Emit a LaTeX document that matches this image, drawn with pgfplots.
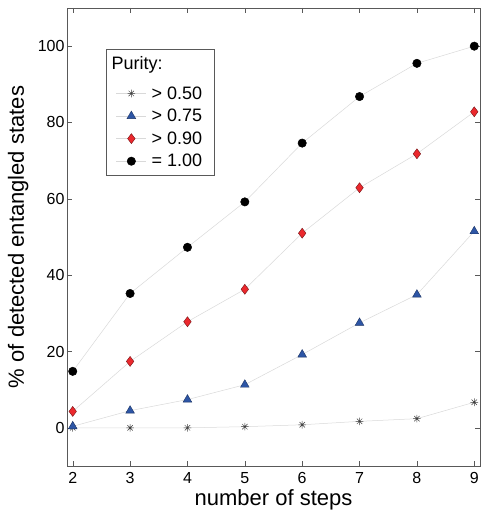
\documentclass[border=0pt]{standalone}
\usepackage{fontspec}
\setmainfont{Liberation Sans}
\usepackage{pgfplots}
\pgfplotsset{compat=1.18}
\definecolor{triblue}{RGB}{45,85,165}
\definecolor{dired}{RGB}{235,40,45}
% MATLAB-like '*' marker: a plus and a cross on top of each other
\pgfdeclareplotmark{matstar}{%
  \pgfpathmoveto{\pgfqpoint{0pt}{\pgfplotmarksize}}%
  \pgfpathlineto{\pgfqpoint{0pt}{-\pgfplotmarksize}}%
  \pgfpathmoveto{\pgfqpoint{\pgfplotmarksize}{0pt}}%
  \pgfpathlineto{\pgfqpoint{-\pgfplotmarksize}{0pt}}%
  \pgfpathmoveto{\pgfqpoint{0.707\pgfplotmarksize}{0.707\pgfplotmarksize}}%
  \pgfpathlineto{\pgfqpoint{-0.707\pgfplotmarksize}{-0.707\pgfplotmarksize}}%
  \pgfpathmoveto{\pgfqpoint{-0.707\pgfplotmarksize}{0.707\pgfplotmarksize}}%
  \pgfpathlineto{\pgfqpoint{0.707\pgfplotmarksize}{-0.707\pgfplotmarksize}}%
  \pgfusepathqstroke}
\begin{document}
\begin{tikzpicture}
\begin{axis}[
    scale only axis,
    width=413pt, height=458pt,
    xmin=1.9, xmax=9.1,
    ymin=-10, ymax=110,
    xtick={2,...,9}, ytick={0,20,...,100},
    tick align=inside,
    major tick length=5pt,
    axis line style={gray!70!black},
    tick style={gray!70!black},
    ticklabel style={font=\fontsize{16}{18}\selectfont},
    xticklabel style={yshift=-3pt},
    yticklabel style={xshift=1pt},
    /pgf/number format/assume math mode=true,
    xlabel={number of steps},
    ylabel={\% of detected entangled states},
    label style={font=\fontsize{22}{24}\selectfont, inner sep=0pt},
    xlabel style={at={([yshift=-39pt]axis description cs:0.5,0)}, anchor=base},
    ylabel style={at={([xshift=-43pt]axis description cs:0,0.5)}, anchor=base},
    legend style={at={(0.094,0.91)}, anchor=north west,
        font=\fontsize{18}{20}\selectfont, draw=gray!70!black,
        inner xsep=10pt, inner ysep=5pt, row sep=4.5pt, column sep=3pt},
    legend cell align=left,
    legend image code/.code={\draw[mark repeat=2,mark phase=2,#1]
        plot coordinates {(0cm,0cm)(0.53cm,0cm)(1.06cm,0cm)};},
    every axis plot/.append style={draw=gray!30, line width=0.5pt},
]
\addlegendimage{empty legend}
\addlegendentry[text depth=8.5pt]{\hspace*{-40pt}Purity:}

\addplot[mark=matstar, mark size=3.8pt, mark options={draw=gray!50!black, line width=0.5pt}]
coordinates {(2,0) (3,0) (4,0) (5,0.3) (6,0.8) (7,1.7) (8,2.4) (9,6.7)};
\addlegendentry{> 0.50}

\addplot[mark=triangle*, mark size=5pt, mark options={fill=triblue, draw=triblue!60!black, line width=0.4pt}]
coordinates {(2,0.4) (3,4.5) (4,7.4) (5,11.3) (6,19.2) (7,27.5) (8,34.9) (9,51.5)};
\addlegendentry{> 0.75}

\addplot[mark=diamond*, mark size=5pt, mark options={fill=dired, draw=dired!50!black, line width=0.4pt}]
coordinates {(2,4.3) (3,17.4) (4,27.8) (5,36.3) (6,51.0) (7,62.9) (8,71.8) (9,82.8)};
\addlegendentry{> 0.90}

\addplot[mark=*, mark size=4.2pt, mark options={fill=black, draw=black}]
coordinates {(2,14.8) (3,35.2) (4,47.3) (5,59.2) (6,74.6) (7,86.8) (8,95.5) (9,100)};
\addlegendentry{= 1.00}
\end{axis}
\pgfresetboundingbox
\path ([xshift=-67pt,yshift=8pt]current axis.north west)
  rectangle ([xshift=2pt,yshift=-44pt]current axis.south east);
\end{tikzpicture}
\end{document}
